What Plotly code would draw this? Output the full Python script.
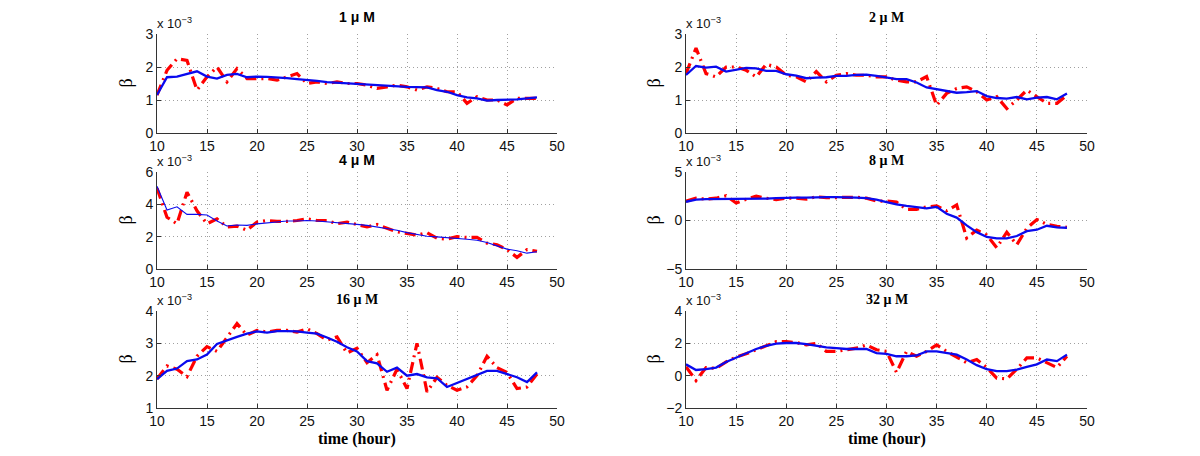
import plotly.graph_objects as go

hours = list(range(10, 49))

titles = ["1 \u03bc M", "2 \u03bc M", "4 \u03bc M", "8 \u03bc M", "16 \u03bc M", "32 \u03bc M"]

red_1 = [1.15, 1.9, 2.25, 2.2, 1.3, 1.7, 2.0, 1.55, 1.95, 1.65, 1.65, 1.65, 1.6, 1.7, 1.8, 1.5, 1.55, 1.5, 1.55,
         1.5, 1.5, 1.45, 1.35, 1.4, 1.45, 1.4, 1.3, 1.4, 1.35, 1.25, 1.25, 0.9, 1.1, 1.0, 1.0, 0.85, 1.05, 1.05, 1.05]
blue_1 = [1.15, 1.69, 1.71, 1.79, 1.87, 1.71, 1.65, 1.76, 1.79, 1.69, 1.71, 1.7, 1.69, 1.66, 1.63, 1.61, 1.58, 1.54,
          1.52, 1.51, 1.5, 1.48, 1.45, 1.43, 1.42, 1.4, 1.39, 1.38, 1.3, 1.25, 1.15, 1.08, 1.05, 0.98, 1.0, 1.0, 1.02,
          1.05, 1.08]

red_2 = [1.8, 2.57, 1.8, 1.7, 2.0, 2.0, 1.9, 1.7, 2.08, 2.0, 1.75, 1.7, 1.55, 1.86, 1.55, 1.75, 1.8, 1.75, 1.75,
         1.7, 1.7, 1.6, 1.55, 1.55, 1.71, 0.84, 1.2, 1.35, 1.4, 1.25, 1.0, 1.1, 0.74, 1.0, 1.3, 1.1, 0.9, 0.9, 1.15]
blue_2 = [1.76, 2.03, 1.98, 2.01, 1.86, 1.91, 1.97, 1.96, 1.88, 1.88, 1.78, 1.74, 1.66, 1.68, 1.69, 1.73, 1.73,
          1.76, 1.77, 1.73, 1.69, 1.63, 1.63, 1.53, 1.38, 1.32, 1.28, 1.22, 1.24, 1.27, 1.12, 1.06, 1.04, 1.09, 1.02,
          1.07, 1.09, 1.02, 1.2]

red_4 = [5.0, 3.2, 2.8, 4.75, 3.6, 2.8, 3.1, 2.6, 2.65, 2.4, 2.9, 3.0, 2.95, 2.95, 3.0, 3.1, 3.0, 3.0, 2.8, 2.9,
         2.75, 2.6, 2.75, 2.5, 2.3, 2.2, 2.1, 2.25, 1.9, 1.85, 2.0, 1.95, 1.95, 1.6, 1.5, 1.2, 0.72, 1.2, 1.1]
blue_4 = [5.12, 3.65, 3.85, 3.38, 3.38, 3.34, 2.97, 2.66, 2.72, 2.7, 2.79, 2.85, 2.92, 2.97, 2.97, 3.0, 2.97, 2.92,
          2.9, 2.82, 2.76, 2.7, 2.6, 2.52, 2.4, 2.25, 2.13, 2.03, 1.99, 1.95, 1.9, 1.84, 1.78, 1.64, 1.43, 1.23, 1.13,
          0.98, 1.07]

red_8 = [2.0, 2.3, 2.2, 2.3, 2.55, 1.8, 2.2, 2.5, 2.3, 2.15, 2.3, 2.3, 2.2, 2.45, 2.35, 2.35, 2.35, 2.4, 2.3, 2.0,
         2.0, 1.9, 1.15, 1.15, 1.4, 1.5, 1.0, 1.6, -1.8, -1.0, -1.5, -2.8, -1.2, -2.5, -0.8, 0.1, -0.4, -0.6, -0.7]
blue_8 = [1.93, 2.15, 2.2, 2.2, 2.2, 2.2, 2.2, 2.2, 2.25, 2.3, 2.35, 2.35, 2.35, 2.4, 2.4, 2.4, 2.4, 2.35, 2.3,
          2.15, 1.9, 1.65, 1.5, 1.35, 1.25, 1.4, 0.7, 0.3, -0.5, -1.2, -1.7, -1.85, -1.85, -1.6, -1.1, -0.95, -0.54,
          -0.7, -0.75]

red_16 = [1.9, 2.3, 2.2, 1.97, 2.6, 2.9, 2.75, 3.2, 3.61, 3.25, 3.4, 3.35, 3.4, 3.4, 3.35, 3.45, 3.3, 3.1, 3.2,
          2.7, 2.85, 2.4, 2.65, 1.55, 2.2, 1.6, 3.0, 1.5, 1.95, 1.7, 1.55, 1.65, 2.0, 2.6, 2.25, 2.1, 1.6, 1.65, 2.05]
blue_16 = [1.89, 2.15, 2.22, 2.45, 2.5, 2.65, 2.98, 3.1, 3.2, 3.3, 3.37, 3.33, 3.38, 3.38, 3.37, 3.33, 3.3, 3.18,
           3.05, 2.88, 2.75, 2.45, 2.38, 2.12, 2.25, 2.0, 2.05, 1.95, 1.92, 1.65, 1.78, 1.9, 2.02, 2.15, 2.15, 2.05,
           1.95, 1.8, 2.1]

red_32 = [0.55, -0.3, 0.5, 0.45, 0.85, 1.15, 1.35, 1.6, 1.9, 2.1, 2.1, 2.05, 1.9, 2.0, 1.5, 1.5, 1.6, 1.7, 1.9,
          1.6, 1.5, 0.2, 1.5, 1.2, 1.5, 1.9, 1.5, 1.15, 0.8, 1.0, 0.5, -0.15, -0.2, 0.4, 1.1, 1.1, 0.8, 0.5, 1.2]
blue_32 = [0.7, 0.35, 0.4, 0.5, 0.85, 1.1, 1.4, 1.65, 1.85, 1.98, 2.02, 2.02, 1.95, 1.85, 1.75, 1.7, 1.65, 1.65,
           1.65, 1.4, 1.35, 1.2, 1.2, 1.25, 1.5, 1.5, 1.4, 1.3, 1.0, 0.65, 0.4, 0.28, 0.28, 0.38, 0.55, 0.7, 1.0,
           0.9, 1.3]

red_series = [red_1, red_2, red_4, red_8, red_16, red_32]
blue_series = [blue_1, blue_2, blue_4, blue_8, blue_16, blue_32]

y_ranges = [[0, 3], [0, 3], [0, 6], [-5, 5], [1, 4], [-2, 4]]
y_dticks = [1, 1, 2, 5, 1, 2]
x_ticks = [10, 15, 20, 25, 30, 35, 40, 45, 50]

W, H = 1200, 456
col_px = [(157, 557), (686, 1087)]
row_px = [(34, 133), (172, 269), (311, 408)]
title_shift = [17, 12, 12]
ylab_px = [125, 653]
title_fonts = ["Liberation Sans", "Liberation Serif", "Liberation Sans",
               "Liberation Serif", "Liberation Serif", "Liberation Serif"]
blue_widths = [2.3, 2.3, 1.1, 2.3, 2.3, 2.3]

fig = go.Figure()
annotations = []
layout = {}


def px_x(p):
    return p / W


def px_y(p):
    return 1 - p / H


for i in range(6):
    r, c = divmod(i, 2)
    n = i + 1
    xa = "x" if n == 1 else f"x{n}"
    ya = "y" if n == 1 else f"y{n}"
    x0, x1 = col_px[c]
    t0, b0 = row_px[r]
    dom_x = [px_x(x0), px_x(x1)]
    dom_y = [px_y(b0), px_y(t0)]

    fig.add_trace(go.Scatter(x=hours, y=red_series[i], mode="lines", xaxis=xa, yaxis=ya,
                             line=dict(color="#ff0000", width=3.2, dash="11px,5px,2px,5px"),
                             showlegend=False, hoverinfo="skip"))
    fig.add_trace(go.Scatter(x=hours, y=blue_series[i], mode="lines", xaxis=xa, yaxis=ya,
                             line=dict(color="#0a0aee", width=blue_widths[i]),
                             showlegend=False, hoverinfo="skip"))

    common = dict(showgrid=True, gridcolor="#a0a0a0", griddash="1px,3px", gridwidth=1,
                  showline=True, linecolor="#333333", linewidth=1, ticks="inside", ticklen=4,
                  tickcolor="#333333", zeroline=False, automargin=False,
                  tickfont=dict(family="Liberation Sans", size=14, color="#111111"))
    layout["xaxis" if n == 1 else f"xaxis{n}"] = dict(
        domain=dom_x, range=[10, 50], tickvals=x_ticks, anchor=ya, **common)
    layout["yaxis" if n == 1 else f"yaxis{n}"] = dict(
        domain=dom_y, range=y_ranges[i], dtick=y_dticks[i], tick0=y_ranges[i][0], anchor=xa, **common)

    annotations.append(dict(text="<b>" + titles[i] + "</b>", xref="paper", yref="paper",
                            x=(dom_x[0] + dom_x[1]) / 2, y=dom_y[1], yshift=title_shift[r],
                            xanchor="center", yanchor="middle", showarrow=False,
                            font=dict(family=title_fonts[i], size=14, color="#000000")))
    annotations.append(dict(text="x 10<sup>\u22123</sup>", xref="paper", yref="paper",
                            x=dom_x[0], y=dom_y[1], yshift=1, xshift=-2,
                            xanchor="left", yanchor="bottom", showarrow=False,
                            font=dict(family="Liberation Sans", size=13, color="#111111")))
    annotations.append(dict(text="\u03b2", xref="paper", yref="paper",
                            x=px_x(ylab_px[c]), y=(dom_y[0] + dom_y[1]) / 2, textangle=-90,
                            xanchor="center", yanchor="middle", showarrow=False,
                            font=dict(family="Liberation Serif", size=18, color="#000000")))
    if r == 2:
        annotations.append(dict(text="<b>time (hour)</b>", xref="paper", yref="paper",
                                x=(dom_x[0] + dom_x[1]) / 2, y=px_y(439),
                                xanchor="center", yanchor="middle", showarrow=False,
                                font=dict(family="Liberation Serif", size=16, color="#000000")))

fig.update_layout(width=W, height=H, margin=dict(l=0, r=0, t=0, b=0, autoexpand=False),
                  paper_bgcolor="white", plot_bgcolor="white", hovermode=False,
                  annotations=annotations, **layout)

fig.write_html("out.html", config={"displayModeBar": False, "staticPlot": True},
               post_script="document.body.style.margin='0';document.body.style.overflow='hidden';")
